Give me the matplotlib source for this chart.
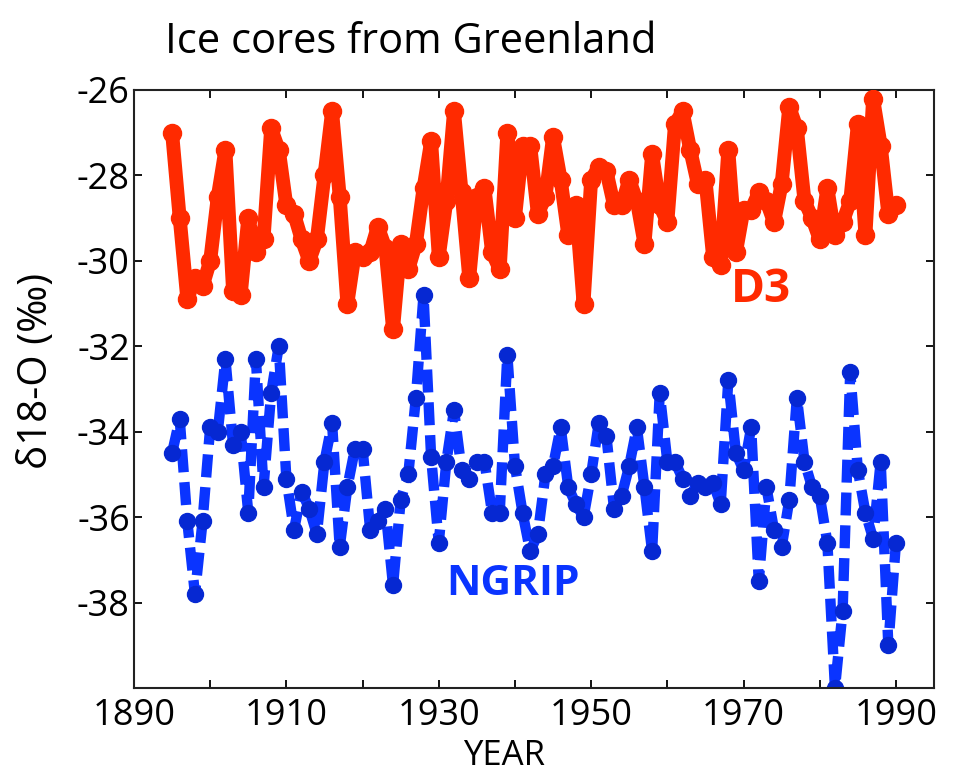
import matplotlib
matplotlib.use("Agg")
import matplotlib.pyplot as plt
import numpy as np

# Annual oxygen-isotope records from two Greenland ice cores
years = list(range(1895, 1991))

d3 = [
    -27.0, -29.0, -30.9, -30.4, -30.6, -30.0, -28.5, -27.4, -30.7, -30.8,   # 1895-1904
    -29.0, -29.8, -29.5, -26.9, -27.4, -28.7, -28.9, -29.5, -30.0, -29.5,   # 1905-1914
    -28.0, -26.5, -28.5, -31.0, -29.8, -29.9, -29.8, -29.2, -29.7, -31.6,   # 1915-1924
    -29.6, -30.2, -29.6, -28.3, -27.2, -29.9, -28.6, -26.5, -28.4, -30.4,   # 1925-1934
    -28.5, -28.3, -29.8, -30.2, -27.0, -29.0, -27.3, -27.3, -28.9, -28.5,   # 1935-1944
    -27.1, -28.1, -29.4, -28.7, -31.0, -28.1, -27.8, -27.9, -28.7, -28.7,   # 1945-1954
    -28.1, -28.6, -29.6, -27.5, -28.7, -29.1, -26.8, -26.5, -27.4, -28.2,   # 1955-1964
    -28.1, -29.9, -30.1, -27.4, -29.8, -28.8, -28.8, -28.4, -28.6, -29.1,   # 1965-1974
    -28.2, -26.4, -26.9, -28.6, -29.0, -29.5, -28.3, -29.4, -29.1, -28.6,   # 1975-1984
    -26.8, -29.4, -26.2, -27.3, -28.9, -28.7,                               # 1985-1990
]

ngrip = [
    -34.5, -33.7, -36.1, -37.8, -36.1, -33.9, -34.0, -32.3, -34.3, -34.0,   # 1895-1904
    -35.9, -32.3, -35.3, -33.1, -32.0, -35.1, -36.3, -35.4, -35.8, -36.4,   # 1905-1914
    -34.7, -33.8, -36.7, -35.3, -34.4, -34.4, -36.3, -36.1, -35.8, -37.6,   # 1915-1924
    -35.6, -35.0, -33.2, -30.8, -34.6, -36.6, -34.7, -33.5, -34.9, -35.1,   # 1925-1934
    -34.7, -34.7, -35.9, -35.9, -32.2, -34.8, -35.9, -36.8, -36.4, -35.0,   # 1935-1944
    -34.8, -33.9, -35.3, -35.7, -36.0, -35.0, -33.8, -34.1, -35.8, -35.5,   # 1945-1954
    -34.8, -33.9, -35.3, -36.8, -33.1, -34.7, -34.7, -35.1, -35.5, -35.2,   # 1955-1964
    -35.3, -35.2, -35.7, -32.8, -34.5, -34.9, -33.9, -37.5, -35.3, -36.3,   # 1965-1974
    -36.7, -35.6, -33.2, -34.7, -35.3, -35.5, -36.6, -40.0, -38.2, -32.6,   # 1975-1984
    -34.9, -35.9, -36.5, -34.7, -39.0, -36.6,                               # 1985-1990
]

x_ticks = list(range(1890, 2000, 10))
x_tick_labels = ["1890", "", "1910", "", "1930", "", "1950", "", "1970", "", "1990"]
y_ticks = [-38, -36, -34, -32, -30, -28, -26]
y_tick_labels = ["-38", "-36", "-34", "-32", "-30", "-28", "-26"]

RED = "#ff2a00"
BLUE = "#0a34ff"
BLUE_DOT = "#0628d2"
FONT = ["Open Sans", "DejaVu Sans"]

plt.rcParams["font.family"] = FONT

fig = plt.figure(figsize=(9.57, 7.79), dpi=100)
ax = fig.add_axes([0.140, 0.1168, 0.836, 0.7677])

ax.plot(years, d3, color=RED, lw=10.0, solid_capstyle="round", solid_joinstyle="round",
        marker="o", ms=13, mfc=RED, mec=RED, zorder=3)

(ng_line,) = ax.plot(years, ngrip, color=BLUE, lw=7.5, dash_capstyle="butt",
                     marker="o", ms=11.5, mfc=BLUE_DOT, mec=BLUE_DOT, zorder=2)
ng_line.set_dashes([2.2, 0.95])

ax.set_xlim(1890, 1995)
ax.set_ylim(-40, -26)
ax.set_xticks(x_ticks)
ax.set_xticklabels(x_tick_labels)
ax.set_yticks(y_ticks)
ax.set_yticklabels(y_tick_labels)

ax.tick_params(direction="in", length=6, width=1.3, top=True, right=True,
               labelsize=26, colors="black")
ax.tick_params(axis="y", pad=3)
ax.tick_params(axis="x", pad=7)
for sp in ax.spines.values():
    sp.set_linewidth(1.5)
    sp.set_color("#222222")

ax.set_xlabel("YEAR", fontsize=25)
ax.xaxis.set_label_coords(0.4625, -0.085)
ax.set_ylabel("δ18-O (‰)", fontsize=29)
ax.yaxis.set_label_coords(-0.096, 0.53)

ax.text(1972.3, -30.68, "D3", color=RED, fontsize=33, fontweight="bold",
        ha="center", va="center")
ax.text(1939.7, -37.57, "NGRIP", color=BLUE, fontsize=30.5, fontweight="bold",
        ha="center", va="center")

fig.text(0.172, 0.946, "Ice cores from Greenland", fontsize=30, ha="left", va="center")

fig.savefig("out.png", dpi=100, facecolor="white")
